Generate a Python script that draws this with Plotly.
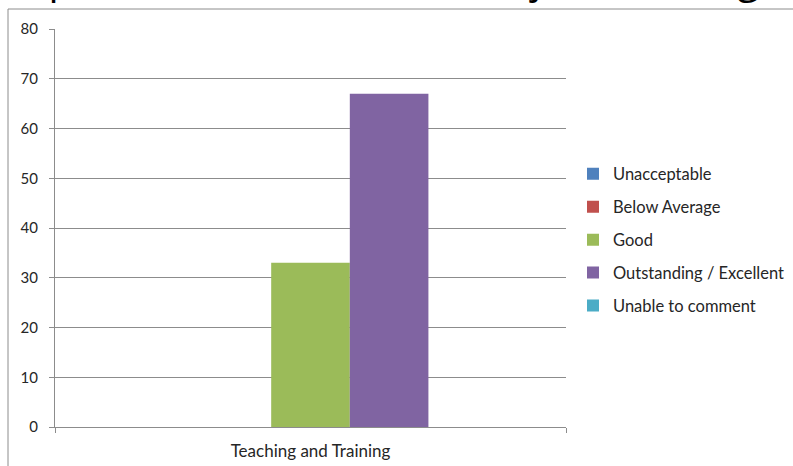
import plotly.graph_objects as go

categories = ["Teaching and Training"]
series_names = ["Unacceptable", "Below Average", "Good", "Outstanding / Excellent", "Unable to comment"]
series_values = [[0], [0], [33], [67], [0]]
series_colors = ["#4F81BD", "#C0504D", "#9BBB59", "#8064A2", "#4BACC6"]
y_ticks = [0, 10, 20, 30, 40, 50, 60, 70, 80]
title_text = "Supervision of students of a junior college"

W, H = 793, 466
L, R, T, B = 55, 227, 29, 39
pw, ph = W - L - R, H - T - B

def px_x(sx):
    return (sx - L) / pw

def px_y(sy):
    return (H - B - sy) / ph

fig = go.Figure()
for i, (name, vals, col) in enumerate(zip(series_names, series_values, series_colors)):
    fig.add_trace(go.Bar(x=categories, y=vals, name=name, marker=dict(color=col, line=dict(width=0)),
                         legendgroup=f"g{i}"))

fig.update_layout(
    width=W, height=H,
    margin=dict(l=L, r=R, t=T, b=B, autoexpand=False),
    paper_bgcolor="white", plot_bgcolor="white",
    barmode="group", bargap=1.5 / 6.5, bargroupgap=0,
    font=dict(family="Lato", size=15, color="#262626"),
    showlegend=True,
    legend=dict(x=px_x(573), y=px_y(240), xanchor="left", yanchor="middle",
                font=dict(family="Lato", size=16.5, color="#262626"),
                tracegroupgap=8.5, itemwidth=30, bgcolor="rgba(0,0,0,0)"),
    xaxis=dict(showline=True, linecolor="#8c8c8c", linewidth=1, ticks="outside", ticklen=5,
               tickcolor="#8c8c8c", tickson="boundaries", showgrid=False,
               tickfont=dict(family="Lato", size=17, color="#262626"), ticklabelstandoff=9),
    yaxis=dict(range=[0, 80], tickvals=y_ticks, showline=True, linecolor="#8c8c8c", linewidth=1,
               ticks="outside", ticklen=5, tickcolor="#8c8c8c", showgrid=True,
               gridcolor="#8c8c8c", gridwidth=1, zeroline=False,
               tickfont=dict(family="Lato", size=15, color="#262626"), ticklabelstandoff=8),
    shapes=[dict(type="rect", xref="paper", yref="paper",
                 x0=px_x(8), x1=px_x(820), y0=px_y(500), y1=px_y(9),
                 line=dict(color="#8c8c8c", width=1), fillcolor="rgba(0,0,0,0)", layer="below")],
    annotations=[dict(text=title_text, xref="paper", yref="paper", x=px_x(0), y=px_y(7),
                      xanchor="left", yanchor="bottom", showarrow=False,
                      font=dict(family="Open Sans", size=40, color="#000000"))],
)

fig.write_html("out.html", config={"displayModeBar": False},
               post_script="document.body.style.margin='0';")
